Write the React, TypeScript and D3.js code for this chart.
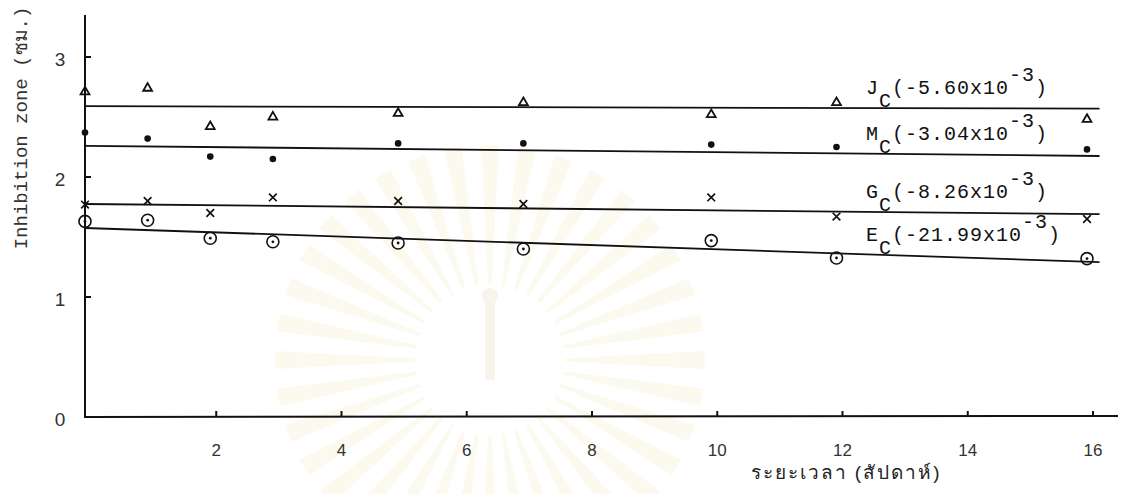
import React from "react";
import * as d3 from "d3";

// ---- data ----
const weeks = [0, 1, 2, 3, 5, 7, 10, 12, 16];
const seriesKeys = ["J", "M", "G", "E"];
const jValues = [2.71, 2.74, 2.42, 2.5, 2.53, 2.62, 2.52, 2.62, 2.48];
const mValues = [2.37, 2.32, 2.17, 2.15, 2.28, 2.28, 2.27, 2.25, 2.23];
const gValues = [1.77, 1.8, 1.7, 1.83, 1.8, 1.775, 1.83, 1.67, 1.65];
const eValues = [1.63, 1.64, 1.49, 1.46, 1.45, 1.4, 1.47, 1.325, 1.32];
const lineStartValues = [2.59, 2.26, 1.775, 1.575];
const lineEndValues = [2.57, 2.175, 1.69, 1.29];
const lineEndWeek = 16.2;
const slopeLabels = ["-5.60", "-3.04", "-8.26", "-21.99"];
const xTicks = [2, 4, 6, 8, 10, 12, 14, 16];
const yTicks = [0, 1, 2, 3];
const yLabel = "Inhibition zone (ซม.)";
const xLabel = "ระยะเวลา (สัปดาห์)";

const W = 1124;
const H = 494;

export default function App() {
  const x = d3.scaleLinear().domain([0, 16]).range([85, 1087]);
  const y = d3.scaleLinear().domain([0, 3]).range([417, 57]);
  const allValues = [jValues, mValues, gValues, eValues];
  const mono = "'Liberation Mono', 'DejaVu Sans Mono', monospace";
  const sans = "'Liberation Sans', Arial, sans-serif";
  const labelWeek = 12.8;

  const marker = (k: number, cx: number, cy: number, i: number) => {
    if (k === 0) {
      const p = d3.symbol(d3.symbolTriangle, 34)();
      return <path key={i} d={p || ""} transform={`translate(${cx},${cy})`} fill="none" stroke="#111" strokeWidth={1.8} />;
    }
    if (k === 1) return <circle key={i} cx={cx} cy={cy} r={3.3} fill="#111" />;
    if (k === 2) {
      const p = d3.symbol(d3.symbolTimes, 40)();
      return <path key={i} d={p || ""} transform={`translate(${cx},${cy})`} fill="none" stroke="#111" strokeWidth={1.7} />;
    }
    return (
      <g key={i}>
        <circle cx={cx} cy={cy} r={6} fill="none" stroke="#111" strokeWidth={1.6} />
        <circle cx={cx} cy={cy} r={1.4} fill="#111" />
      </g>
    );
  };

  // very faint watermark rays (decoration of the scanned page)
  const rays = d3.range(0, 360, 10).map((a) => {
    const r0 = 75, r1 = 215, half = 2.4;
    const c = [490, 360];
    const p = (ang: number, r: number) => [c[0] + r * Math.cos((ang * Math.PI) / 180), c[1] + r * Math.sin((ang * Math.PI) / 180)];
    const pts = [p(a - half * 0.5, r0), p(a - half, r1), p(a + half, r1), p(a + half * 0.5, r0)];
    return "M" + pts.map((q) => q.join(",")).join("L") + "Z";
  });

  return (
    <svg width={W} height={H} style={{ position: "absolute", left: 0, top: 0, background: "#fff" }}>
      <rect width={W} height={H} fill="#fff" />
      <g opacity={0.5}>
        {rays.map((d, i) => (
          <path key={i} d={d} fill="#fbf4df" />
        ))}
        <rect x={485} y={300} width={10} height={80} fill="#f1ead8" />
        <circle cx={490} cy={296} r={8} fill="#f1ead8" />
      </g>

      {/* axes */}
      <line x1={85} y1={15} x2={85} y2={418} stroke="#111" strokeWidth={2} />
      <line x1={84} y1={417} x2={1118} y2={416} stroke="#111" strokeWidth={2} />
      {yTicks.filter((t) => t > 0).map((t) => (
        <line key={t} x1={85} x2={91} y1={y(t)} y2={y(t)} stroke="#111" strokeWidth={2} />
      ))}
      {yTicks.map((t) => (
        <text key={t} x={60} y={y(t) + 9} fontFamily={sans} fontSize={19} fill="#333" textAnchor="middle">
          {t}
        </text>
      ))}
      {xTicks.map((t) => (
        <line key={t} x1={x(t) + 6} x2={x(t) + 6} y1={417} y2={411} stroke="#111" strokeWidth={2} />
      ))}
      {xTicks.map((t) => (
        <text key={t} x={x(t) + 6} y={456} fontFamily={sans} fontSize={17} fill="#333" textAnchor="middle">
          {t}
        </text>
      ))}

      <text x={846} y={479} fontFamily={sans} fontSize={19} letterSpacing={2} fill="#222" textAnchor="middle">
        {xLabel}
      </text>
      <text transform="translate(27,128) rotate(-90)" fontFamily={mono} fontSize={19} fill="#333" textAnchor="middle">
        {yLabel}
      </text>

      {/* regression lines */}
      {seriesKeys.map((k, i) => (
        <line
          key={k}
          x1={x(0)}
          y1={y(lineStartValues[i])}
          x2={x(lineEndWeek)}
          y2={y(lineEndValues[i])}
          stroke="#111"
          strokeWidth={1.8}
        />
      ))}

      {/* points */}
      {allValues.map((vals, k) => (
        <g key={k}>{vals.map((v, i) => marker(k, x(weeks[i]), y(v), i))}</g>
      ))}

      {/* labels */}
      {seriesKeys.map((k, i) => {
        const vAt = lineStartValues[i] + ((lineEndValues[i] - lineStartValues[i]) * labelWeek) / lineEndWeek;
        const by = y(vAt) - 14;
        return (
          <text key={k} x={866} y={by} fontFamily={mono} fontSize={20} letterSpacing={1} fill="#111">
            {k}
            <tspan dy={13}>C</tspan>
            <tspan dy={-13}>{`(${slopeLabels[i]}x10`}</tspan>
            <tspan dy={-13}>-3</tspan>
            <tspan dy={13}>)</tspan>
          </text>
        );
      })}
    </svg>
  );
}
